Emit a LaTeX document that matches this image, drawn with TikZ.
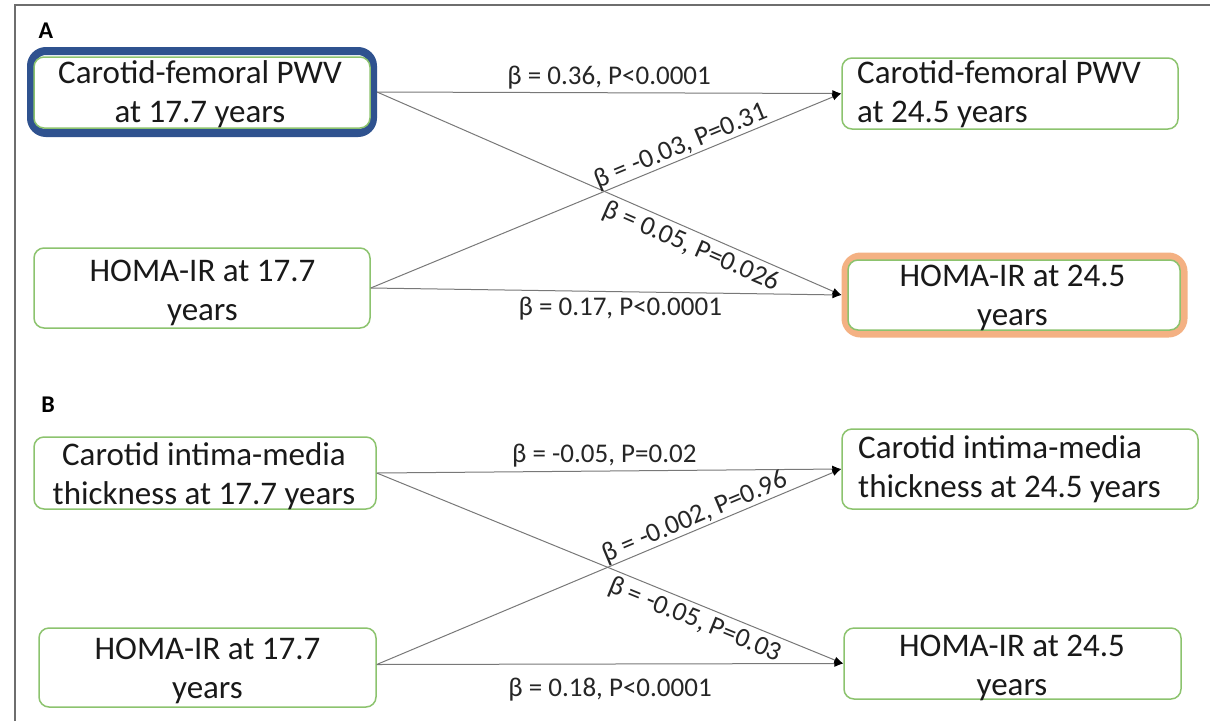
\documentclass[tikz,border=0pt]{standalone}
\usepackage{fontspec}
\setmainfont{Carlito}
\usetikzlibrary{arrows.meta}
\definecolor{boxgreen}{RGB}{140,195,110}
\definecolor{hlblue}{RGB}{47,82,143}
\definecolor{hlorange}{RGB}{244,177,131}
\definecolor{edgegray}{RGB}{120,120,120}
\definecolor{framegray}{RGB}{110,110,110}
\tikzset{
  box/.style={draw=boxgreen, line width=1.5pt, rounded corners=10pt, inner sep=0pt},
  hlbox/.style={line width=8pt, rounded corners=15pt, inner sep=0pt},
  boxtext/.style={font=\fontsize{33}{39}\selectfont, inner sep=0pt, text=black!90},
  lbl/.style={font=\fontsize{27}{32}\selectfont, inner sep=1pt, text=black!85},
  conn/.style={draw=edgegray, line width=1pt, -{Latex[length=9pt,width=7pt,color=black]}},
  panel/.style={font=\fontsize{24}{26}\selectfont\bfseries, inner sep=0pt}
}
\begin{document}
\begin{tikzpicture}[x=1pt,y=-1pt]
\useasboundingbox (0,0) rectangle (1210,721);
\draw[framegray, line width=1.5pt] (15,721) -- (15,5) -- (1210,5);

\node[panel] (pA) at (46,31) {A};
\node[panel] (pB) at (48,405) {B};

% Panel A boxes
\node[hlbox, draw=hlblue, minimum width=342pt, minimum height=82pt] (a1h) at (202,92) {};
\node[box, fill=white, minimum width=336pt, minimum height=71pt] (a1) at (202,92.5) {};
\node[box, minimum width=336pt, minimum height=71pt] (a2) at (1010,93.5) {};
\node[box, minimum width=336pt, minimum height=80pt] (a3) at (202,288) {};
\node[hlbox, draw=hlorange, minimum width=338pt, minimum height=77pt] (a4h) at (1014.5,295) {};
\node[box, fill=white, minimum width=332pt, minimum height=70pt] (a4) at (1014,295) {};

\node[boxtext, align=center, anchor=base] (a1t) at (200,122) {Carotid-femoral PWV\\at 17.7 years};
\node[boxtext, align=left, anchor=base west] (a2t) at (857,122) {Carotid-femoral PWV\\at 24.5 years};
\node[boxtext, align=center, anchor=base] (a3t) at (202.5,320) {HOMA-IR at 17.7\\years};
\node[boxtext, align=center, anchor=base] (a4t) at (1012.5,325) {HOMA-IR at 24.5\\years};

% Panel B boxes
\node[box, minimum width=342pt, minimum height=72pt] (b1) at (205,473) {};
\node[box, minimum width=356pt, minimum height=80pt] (b2) at (1020,469) {};
\node[box, minimum width=337pt, minimum height=79pt] (b3) at (207.5,667.5) {};
\node[box, minimum width=337pt, minimum height=71pt] (b4) at (1012.5,663.5) {};

\node[boxtext, align=center, anchor=base] (b1t) at (204,504) {Carotid intima-media\\thickness at 17.7 years};
\node[boxtext, align=left, anchor=base west] (b2t) at (858,497) {Carotid intima-media\\thickness at 24.5 years};
\node[boxtext, align=center, anchor=base] (b3t) at (207.5,698) {HOMA-IR at 17.7\\years};
\node[boxtext, align=center, anchor=base] (b4t) at (1012,695) {HOMA-IR at 24.5\\years};

% Panel A connectors
\draw[conn] (a1h.east) -- node[lbl, above, inner sep=3pt, pos=0.5] (la1) {β = 0.36, P<0.0001} (a2.west);
\draw[conn] (a1h.east) -- node[lbl, below, sloped, inner sep=4pt, pos=0.69] (la2) {β = 0.05, P=0.026} (a4h.west);
\draw[conn] (a3.east) -- node[lbl, above, sloped, inner sep=0pt, pos=0.67] (la3) {β = -0.03, P=0.31} (a2.west);
\draw[conn] (a3.east) -- node[lbl, below, inner sep=5pt, pos=0.53] (la4) {β = 0.17, P<0.0001} (a4h.west);

% Panel B connectors
\draw[conn] (b1.east) -- node[lbl, above, inner sep=3pt, pos=0.49] (lb1) {β = -0.05, P=0.02} (b2.west);
\draw[conn] (b1.east) -- node[lbl, below, sloped, inner sep=4pt, pos=0.695] (lb2) {β = -0.05, P=0.03} (b4.west);
\draw[conn] ([yshift=3pt]b3.east) -- node[lbl, above, sloped, inner sep=0pt, pos=0.695] (lb3) {β = -0.002, P=0.96} (b2.west);
\draw[conn] ([yshift=3pt]b3.east) -- node[lbl, below, inner sep=14pt, pos=0.5] (lb4) {β = 0.18, P<0.0001} (b4.west);
\end{tikzpicture}
\end{document}
